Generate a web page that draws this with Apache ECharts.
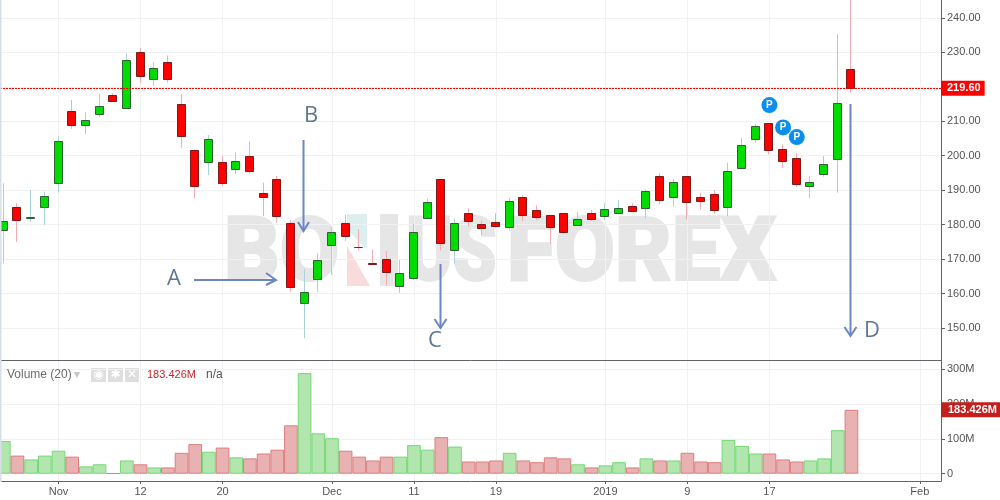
<!DOCTYPE html>
<html>
<head>
<meta charset="utf-8" />
<style>
  html, body { margin: 0; padding: 0; background: #fff; overflow: hidden; }
  #chart { width: 1000px; height: 500px; }
</style>
<script src="https://cdn.jsdelivr.net/npm/echarts@6/dist/echarts.min.js"></script>
</head>
<body>
<div id="chart"></div>
<script>
// bars are numbered by trading slot, the first one is cut off by the left edge
const tickSlots = [4, 10, 16, 24, 30, 36, 44, 50, 56, 67];
const tickLabels = ["Nov", "12", "20", "Dec", "11", "19", "2019", "9", "17", "Feb"];
const opens = [
  178.5, 185.2, 182.0, 185.1, 192.0, 212.9, 209.0, 212.2, 217.6, 213.9, 230.2, 222.2, 227.1,
  215.1, 201.7, 198.3, 198.1, 196.2, 200.0, 189.2, 193.1, 180.4, 157.2, 164.1, 174.0,
  180.4, 173.6, 168.9, 170.1, 162.1, 164.6, 182.0, 193.1, 172.6, 183.3, 180.1, 180.7,
  179.3, 188.0, 184.1, 182.7, 183.3, 180.0, 183.3, 182.6, 183.5, 185.5, 184.8, 194.0,
  187.9, 194.0, 188.0, 188.9, 185.2, 196.5, 204.8, 209.4, 202.0, 199.4, 191.3, 194.6, 199.1, 225.1,
];
const closes = [
  181.0, 181.4, 182.2, 188.3, 204.2, 209.0, 210.3, 214.5, 215.9, 227.9, 223.1, 225.6, 222.4,
  205.8, 191.1, 204.9, 192.2, 198.4, 195.6, 187.9, 182.5, 162.0, 160.4, 169.8, 178.0,
  176.6, 173.4, 168.7, 166.3, 165.9, 178.0, 186.7, 174.6, 180.4, 181.1, 179.1, 179.7,
  186.9, 182.9, 182.3, 179.4, 178.0, 181.6, 181.7, 184.4, 184.7, 184.0, 189.8, 187.1,
  192.3, 186.6, 186.9, 184.3, 195.5, 203.1, 208.5, 201.6, 198.5, 191.9, 192.3, 197.5, 215.4, 219.6,
];
const lows = [
  168.8, 175.0, 180.8, 179.9, 189.3, 207.8, 206.3, 211.3, 215.7, 213.8, 221.2, 220.3, 221.2,
  202.3, 187.6, 194.4, 191.3, 194.7, 194.9, 182.5, 180.6, 160.5, 147.0, 160.5, 165.4,
  175.3, 172.4, 168.3, 162.2, 160.2, 163.9, 182.0, 172.5, 168.6, 179.4, 177.0, 178.9,
  178.2, 181.0, 181.3, 174.4, 177.3, 179.9, 181.1, 181.3, 183.0, 183.8, 181.8, 185.9,
  185.2, 181.5, 184.4, 183.1, 182.5, 196.4, 203.8, 200.4, 196.5, 191.0, 187.6, 193.9, 189.3, 218.3,
];
const highs = [
  192.0, 186.2, 190.0, 189.6, 205.7, 216.2, 212.6, 217.9, 218.1, 229.7, 231.2, 227.1, 229.1,
  217.9, 201.8, 206.0, 199.9, 201.0, 204.1, 192.2, 194.1, 181.3, 167.1, 171.7, 179.4,
  182.8, 178.7, 172.8, 172.3, 169.7, 180.2, 187.6, 193.2, 181.8, 184.7, 181.1, 183.3,
  187.8, 188.6, 185.6, 182.8, 183.4, 183.6, 184.2, 186.2, 187.1, 186.2, 190.2, 194.9,
  193.2, 194.1, 189.1, 190.0, 198.0, 205.2, 209.2, 209.5, 203.3, 200.7, 194.1, 199.9, 235.2, 246.0,
];
const volumes = [
  94, 52, 41, 52, 66, 49, 21, 27, 1, 38, 27, 18, 18, 60, 85, 63, 75, 47, 44, 58, 69, 139, 289, 116, 102,
  66, 49, 38, 49, 49, 82, 69, 105, 78, 35, 35, 38, 60, 38, 33, 47, 44, 27, 18, 24, 33, 18, 44, 38, 38,
  60, 35, 33, 97, 80, 58, 58, 41, 35, 38, 44, 125, 183.426,
];
const priceTicks = [150, 160, 170, 180, 190, 200, 210, 220, 230, 240];
const volumeTicks = [0, 100, 200, 300];
const lastPrice = 219.6;
const lastVolume = 183.426;
const payoutSlots = [56, 57, 58];
const payoutPrices = [214.7, 208.2, 205.4];

const gridLine = "#f0f1f3";
const axisDark = "#5f6266";
const labelFont = "Liberation Sans, Arial, sans-serif";
const slotMin = -0.279;
const slotMax = 68.55;

const chart = echarts.init(document.getElementById("chart"));

const renderCandle = (params, api) => {
  const slot = api.value(0);
  const open = api.coord([slot, api.value(1)]);
  const close = api.coord([slot, api.value(2)]);
  const low = api.coord([slot, api.value(3)]);
  const high = api.coord([slot, api.value(4)]);
  const up = api.value(2) >= api.value(1);
  // candles sit a pixel left of the volume bars in the original
  const x = Math.round(open[0] - 1) + 0.5;
  const top = Math.round(Math.min(open[1], close[1])) + 0.5;
  const bottom = Math.round(Math.max(open[1], close[1])) + 0.5;
  return {
    type: "group",
    children: [
      {
        type: "line",
        shape: { x1: x, y1: high[1], x2: x, y2: low[1] },
        style: { stroke: up ? "#a9d2d4" : "#f3abb4", lineWidth: 1 },
      },
      {
        type: "rect",
        shape: { x: x - 4, y: top, width: 8, height: bottom - top },
        style: {
          fill: up ? "#00dc00" : "#ff0000",
          stroke: up ? "#2f5f35" : "#7d1a1a",
          lineWidth: 1,
        },
      },
    ],
  };
};

// chevron arrows and their letters, pasted over the screenshot in the original
const arrow = (points) => ({
  type: "polyline",
  z: 50,
  shape: { points: points },
  style: { stroke: "#6b86c6", lineWidth: 2, fill: null },
});
const letter = (text, x, y) => ({
  type: "text",
  z: 50,
  x: x,
  y: y,
  style: {
    text: text,
    fill: "#5d7893",
    font: "22px 'Open Sans', sans-serif",
    textAlign: "center",
    textVerticalAlign: "middle",
  },
});
const watermark = (text, x, width) => ({
  type: "text",
  z: 0,
  x: x,
  y: 257.5,
  scaleX: width,
  style: {
    text: text,
    fill: "#e6e6e6",
    stroke: "#e6e6e6",
    lineWidth: 2,
    font: "900 89px Roboto, sans-serif",
    textVerticalAlign: "middle",
  },
});
const iconBox = (x, width, glyph) => ({
  type: "group",
  z: 50,
  children: [
    { type: "rect", shape: { x: x, y: 368, width: width, height: 14 }, style: { fill: "#dedede" } },
    {
      type: "text",
      x: x + width / 2,
      y: 375,
      style: {
        text: glyph,
        fill: "#fff",
        font: "bold 12px 'DejaVu Sans', sans-serif",
        textAlign: "center",
        textVerticalAlign: "middle",
      },
    },
  ],
});
const paneText = (text, x, color, size) => ({
  type: "text",
  z: 50,
  x: x,
  y: 375,
  style: { text: text, fill: color, font: size + "px " + labelFont, textVerticalAlign: "middle" },
});

chart.setOption({
  animation: false,
  backgroundColor: "#fff",
  grid: [
    { left: 0, width: 941, top: 0, height: 360 },
    { left: 0, width: 941, top: 360, height: 121 },
  ],
  xAxis: [
    {
      type: "value",
      gridIndex: 0,
      min: slotMin,
      max: slotMax,
      axisLine: { onZero: false, lineStyle: { color: axisDark } },
      axisTick: { show: false, customValues: tickSlots },
      axisLabel: { show: false, customValues: tickSlots },
      splitLine: { show: true, lineStyle: { color: gridLine } },
    },
    {
      type: "value",
      gridIndex: 1,
      min: slotMin,
      max: slotMax,
      axisLine: { onZero: false, lineStyle: { color: axisDark } },
      axisTick: { show: true, length: 3, customValues: tickSlots, lineStyle: { color: axisDark } },
      axisLabel: {
        customValues: tickSlots,
        color: "#555",
        fontFamily: labelFont,
        fontSize: 11,
        margin: 5,
        hideOverlap: false,
        formatter: (slot) => tickLabels[tickSlots.indexOf(slot)],
      },
      splitLine: { show: true, lineStyle: { color: gridLine } },
    },
  ],
  yAxis: [
    {
      type: "value",
      gridIndex: 0,
      position: "right",
      min: 140.7,
      max: 245.2,
      axisLine: { show: true, onZero: false, lineStyle: { color: axisDark } },
      axisTick: { show: true, length: 4, customValues: priceTicks, lineStyle: { color: axisDark } },
      axisLabel: {
        customValues: priceTicks,
        color: "#555",
        fontFamily: labelFont,
        fontSize: 11,
        margin: 6,
        formatter: (value) => value.toFixed(2),
      },
      splitLine: { show: true, lineStyle: { color: gridLine } },
    },
    {
      type: "value",
      gridIndex: 1,
      position: "right",
      min: -21,
      max: 326.7,
      axisLine: { show: true, onZero: false, lineStyle: { color: axisDark } },
      axisTick: { show: true, length: 4, customValues: volumeTicks, lineStyle: { color: axisDark } },
      axisLabel: {
        customValues: volumeTicks,
        color: "#555",
        fontFamily: labelFont,
        fontSize: 11,
        margin: 6,
        formatter: (value) => (value > 0 ? value + "M" : "0"),
      },
      splitLine: { show: true, lineStyle: { color: gridLine } },
    },
  ],
  series: [
    {
      type: "custom",
      xAxisIndex: 0,
      yAxisIndex: 0,
      z: 3,
      clip: true,
      renderItem: renderCandle,
      encode: { x: 0, y: [1, 2, 3, 4] },
      data: opens.map((open, i) => [i, open, closes[i], lows[i], highs[i]]),
    },
    {
      type: "scatter",
      xAxisIndex: 0,
      yAxisIndex: 0,
      z: 4,
      symbolSize: 16,
      itemStyle: { color: "#0b8ef2", opacity: 1 },
      label: {
        show: true,
        position: "inside",
        formatter: "P",
        color: "#fff",
        fontFamily: labelFont,
        fontWeight: "bold",
        fontSize: 10,
      },
      data: payoutSlots.map((slot, i) => [slot, payoutPrices[i]]),
      markLine: {
        silent: true,
        symbol: "none",
        animation: false,
        lineStyle: { color: "#ff0000", type: [2, 1], width: 1 },
        label: {
          position: "end",
          distance: 0,
          formatter: () => lastPrice.toFixed(2),
          color: "#fff",
          backgroundColor: "#ff0000",
          fontFamily: labelFont,
          fontWeight: "bold",
          fontSize: 11,
          padding: [2, 4, 2, 6],
        },
        data: [{ yAxis: lastPrice }],
      },
    },
    {
      type: "bar",
      xAxisIndex: 1,
      yAxisIndex: 1,
      barWidth: 13.67,
      data: volumes.map((value, i) => {
        const up = closes[i] >= opens[i];
        return {
          value: [i, value],
          itemStyle: {
            color: up ? "#b2e6ae" : "#e8b2b2",
            borderColor: up ? "#74d877" : "#de7d7d",
            borderWidth: 1,
          },
        };
      }),
      markLine: {
        silent: true,
        symbol: "none",
        animation: false,
        lineStyle: { color: "transparent", width: 1 },
        label: {
          show: true,
          position: "end",
          distance: 0,
          formatter: () => lastVolume.toFixed(3) + "M",
          color: "#fff",
          backgroundColor: "#c41e1e",
          fontFamily: labelFont,
          fontWeight: "bold",
          fontSize: 11,
          padding: [2, 4, 2, 7],
        },
        data: [{ yAxis: lastVolume }],
      },
    },
  ],
  graphic: {
    elements: [
      { type: "rect", z: 60, shape: { x: 0, y: 0, width: 1.5, height: 482 }, style: { fill: "#d8dfe9" } },
      watermark("BO", 224, 0.97),
      { type: "polygon", z: 0, shape: { points: [[347, 214], [367, 214], [367, 250], [347, 229]] }, style: { fill: "#dcefee" } },
      { type: "polygon", z: 0, shape: { points: [[347, 246], [370, 286], [347, 286]] }, style: { fill: "#f8dcdc" } },
      { type: "rect", z: 0, shape: { x: 380, y: 214, width: 18, height: 72 }, style: { fill: "#e6e6e6" } },
      watermark("US", 406, 0.79),
      watermark("FOREX", 507, 0.98),
      arrow([[194, 280], [276, 280]]),
      arrow([[266, 273], [276, 280], [266, 285]]),
      arrow([[303.5, 140], [303.5, 231]]),
      arrow([[298, 222], [303.5, 231], [309, 222]]),
      arrow([[440.5, 264], [440.5, 328]]),
      arrow([[434.5, 319], [440.5, 328], [446.5, 319]]),
      arrow([[850.5, 104], [850.5, 336]]),
      arrow([[844.5, 327], [850.5, 336], [856.5, 327]]),
      letter("A", 174, 279),
      letter("B", 311, 116),
      letter("C", 435, 341),
      letter("D", 872, 331),
      paneText("Volume (20)", 7, "#6b6b6b", 12),
      paneText("▾", 74, "#c4c4c4", 12),
      iconBox(91, 15, "◉"),
      iconBox(108, 15, "✱"),
      iconBox(125, 14, "✕"),
      paneText("183.426M", 147, "#c9252b", 11),
      paneText("n/a", 206, "#555", 12),
    ],
  },
});
</script>
</body>
</html>
